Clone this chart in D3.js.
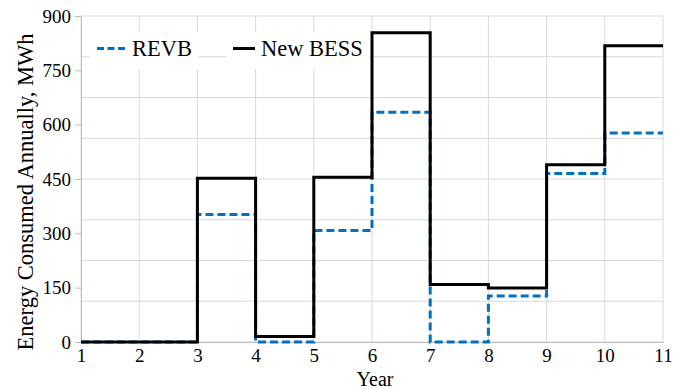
<!DOCTYPE html>
<html>
<head>
<meta charset="utf-8">
<script src="https://cdn.jsdelivr.net/npm/d3@7"></script>
<style>
  body { margin: 0; background: #fff; }
</style>
</head>
<body>
<svg id="chart"></svg>
<script>
// Year index (value holds from this year to the next)
const years = [1, 2, 3, 4, 5, 6, 7, 8, 9, 10, 11];
// Energy consumed per year, MWh (last point repeats to close the step)
const revb = [0, 0, 352, 0, 308, 634, 0, 127, 465, 577, 577];
const newBess = [0, 0, 452, 15, 455, 854, 159, 149, 489, 818, 818];
// Axis ticks
const yTicks = [0, 150, 300, 450, 600, 750, 900];
const yGrid = [0, 112.5, 225, 337.5, 450, 562.5, 675, 787.5, 900];

const FONT = "'Liberation Serif', 'Times New Roman', Times, serif";
const W = 686, H = 390;
const margin = { top: 16, right: 23, bottom: 48, left: 81 };

const svg = d3.select("#chart")
    .attr("width", W)
    .attr("height", H);

// Scales
const x = d3.scaleLinear()
    .domain([1, 11])
    .range([margin.left, W - margin.right]);

const y = d3.scaleLinear()
    .domain([0, 900])
    .range([H - margin.bottom, margin.top]);

// Gridlines
svg.append("g")
    .selectAll("line")
    .data(years)
    .join("line")
    .attr("x1", d => x(d)).attr("x2", d => x(d))
    .attr("y1", y(0)).attr("y2", y(900))
    .attr("stroke", "#d9d9d9")
    .attr("stroke-width", 1);

svg.append("g")
    .selectAll("line")
    .data(yGrid)
    .join("line")
    .attr("x1", x(1)).attr("x2", x(11))
    .attr("y1", d => y(d)).attr("y2", d => y(d))
    .attr("stroke", "#d9d9d9")
    .attr("stroke-width", 1);

// Y axis
const yAxis = svg.append("g")
    .attr("transform", `translate(${x(1)},0)`)
    .call(d3.axisLeft(y).tickValues(yTicks).tickSize(6).tickPadding(4))
    .attr("font-family", FONT)
    .attr("font-size", 19);
yAxis.select(".domain").attr("stroke", "#bfbfbf");
yAxis.selectAll(".tick line").attr("stroke", "#bfbfbf");
yAxis.selectAll("text").attr("fill", "#000");

// X axis
const xAxis = svg.append("g")
    .attr("transform", `translate(0,${y(0)})`)
    .call(d3.axisBottom(x).tickValues(years).tickSize(0).tickPadding(7))
    .attr("font-family", FONT)
    .attr("font-size", 19);
xAxis.select(".domain").attr("stroke", "#bfbfbf");
xAxis.selectAll("text").attr("fill", "#000");

// Lines
const line = d3.line()
    .x((d, i) => x(years[i]))
    .y(d => y(d))
    .curve(d3.curveStepAfter);

svg.append("path")
    .datum(revb)
    .attr("d", line)
    .attr("fill", "none")
    .attr("stroke", "#0070c0")
    .attr("stroke-width", 3)
    .attr("stroke-dasharray", "8,4");

svg.append("path")
    .datum(newBess)
    .attr("d", line)
    .attr("fill", "none")
    .attr("stroke", "#000")
    .attr("stroke-width", 3);

// Legend
const legend = [
    { name: "REVB", color: "#0070c0", dash: "7,3.5", bx: 90, bw: 108, sx: 97, sw: 28, tx: 132 },
    { name: "New BESS", color: "#000", dash: null, bx: 227, bw: 142, sx: 233, sw: 22, tx: 261 }
];
const lg = svg.append("g");
legend.forEach(d => {
    lg.append("rect")
        .attr("x", d.bx).attr("y", 32)
        .attr("width", d.bw).attr("height", 37)
        .attr("fill", "#fff");
    lg.append("line")
        .attr("x1", d.sx).attr("x2", d.sx + d.sw)
        .attr("y1", 48.5).attr("y2", 48.5)
        .attr("stroke", d.color)
        .attr("stroke-width", 3)
        .attr("stroke-dasharray", d.dash);
    lg.append("text")
        .attr("x", d.tx).attr("y", 56)
        .attr("font-family", FONT)
        .attr("font-size", 22.5)
        .text(d.name);
});

// Axis titles
svg.append("text")
    .attr("x", (x(1) + x(11)) / 2 + 3)
    .attr("y", 386)
    .attr("text-anchor", "middle")
    .attr("font-family", FONT)
    .attr("font-size", 20)
    .text("Year");

svg.append("text")
    .attr("transform", "translate(33,192) rotate(-90)")
    .attr("text-anchor", "middle")
    .attr("font-family", FONT)
    .attr("font-size", 22.5)
    .text("Energy Consumed Annually, MWh");
</script>
</body>
</html>
